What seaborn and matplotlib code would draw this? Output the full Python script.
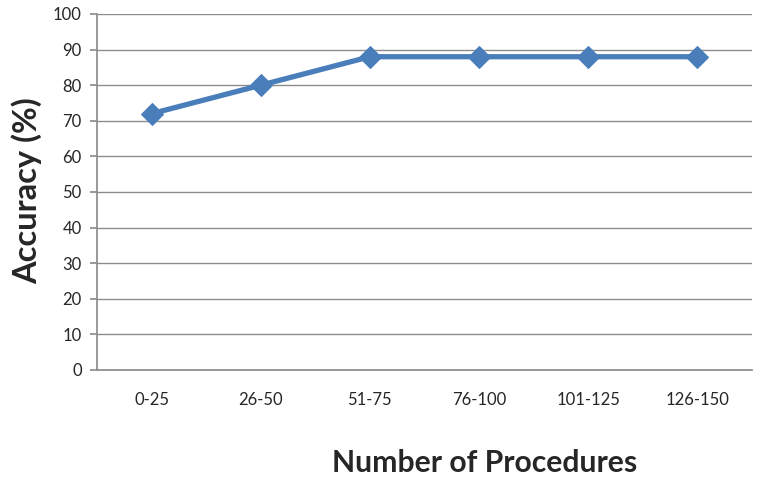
import matplotlib
matplotlib.use("Agg")
import matplotlib.pyplot as plt
import seaborn as sns
import pandas as pd

categories = ["0-25", "26-50", "51-75", "76-100", "101-125", "126-150"]
accuracy = [72, 80, 88, 88, 88, 88]
y_ticks = [0, 10, 20, 30, 40, 50, 60, 70, 80, 90, 100]

sns.set_theme(style="white")
plt.rcParams['font.family'] = ['Lato', 'DejaVu Sans']

df = pd.DataFrame({"x": range(len(categories)), "Accuracy": accuracy})

fig = plt.figure(figsize=(7.62, 4.82), dpi=100)
ax = fig.add_axes([97/762, 1-370/482, (752-97)/762, (370-14)/482])

sns.lineplot(data=df, x="x", y="Accuracy", ax=ax, color="#4A7EBB", linewidth=3.8,
             marker="D", markersize=11, markeredgecolor="#4A7EBB", markerfacecolor="#4A7EBB")

ax.set_xlim(-0.5, len(categories) - 0.5)
ax.set_ylim(0, 100)
ax.set_yticks(y_ticks)
ax.set_xticks(range(len(categories)))
ax.set_xticklabels(categories, fontsize=12)
ax.set_yticklabels([str(v) for v in y_ticks], fontsize=12)
ax.grid(axis="y", color="#8C8C8C", linewidth=1.0)
ax.set_axisbelow(True)
for s in ["top", "right"]:
    ax.spines[s].set_visible(False)
ax.spines["left"].set_color("#8C8C8C")
ax.spines["bottom"].set_color("#8C8C8C")
ax.tick_params(axis="y", length=5, color="#8C8C8C", pad=6, left=True)
ax.tick_params(axis="x", length=0, pad=16)

ax.set_xlabel("")
ax.set_ylabel("")
fig.text(485/762, 1-463/482, "Number of Procedures", ha="center", va="center",
         fontsize=21.7, fontweight="bold")
fig.text(27/762, 1-191/482, "Accuracy (%)", ha="center", va="center",
         fontsize=23.5, fontweight="bold", rotation=90)

fig.savefig("out.png", dpi=100)
